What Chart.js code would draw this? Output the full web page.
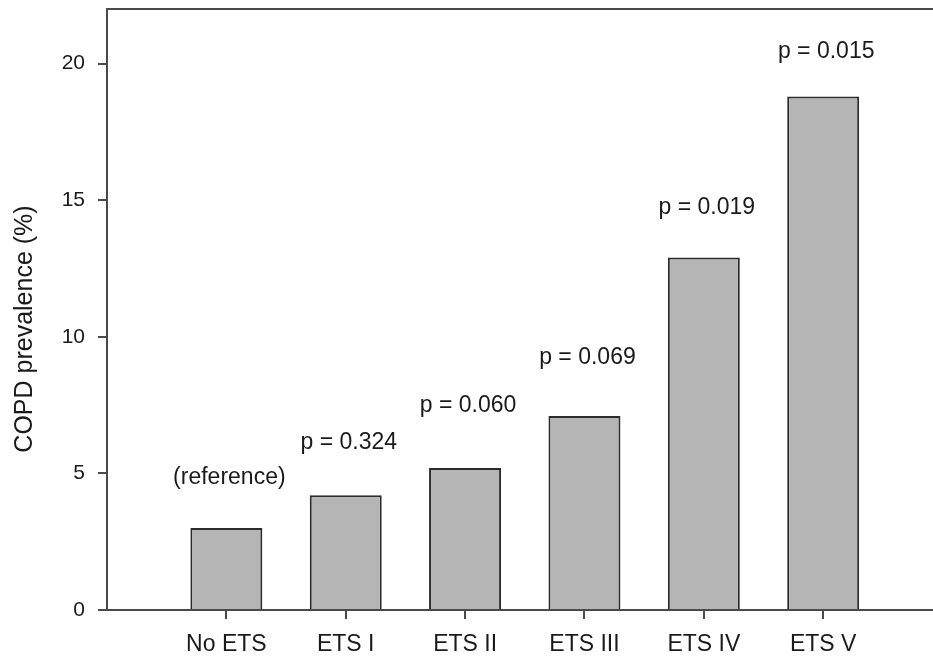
<!DOCTYPE html>
<html>
<head>
<meta charset="utf-8">
<script src="https://cdn.jsdelivr.net/npm/chart.js@4.4.1/dist/chart.umd.min.js"></script>
<style>
  html, body { margin: 0; padding: 0; background: #fff; overflow: hidden; }
</style>
</head>
<body>
<canvas id="copdChart" width="933" height="656"></canvas>
<script>
// Data
const categories = ['No ETS', 'ETS I', 'ETS II', 'ETS III', 'ETS IV', 'ETS V'];
const prevalence = [3.0, 4.2, 5.2, 7.1, 12.9, 18.8];
const pLabels = ['(reference)', 'p = 0.324', 'p = 0.060', 'p = 0.069', 'p = 0.019', 'p = 0.015'];
const yTicks = [0, 5, 10, 15, 20];

const axisColor = '#4a4a4a';
const textColor = '#1a1a1a';
const fontFamily = '"Liberation Sans", Arial, Helvetica, sans-serif';

// how far above each bar top the p-value baseline sits (px)
const labelLift = [44, 46, 56, 52, 44, 38];

const pValuePlugin = {
    id: 'pValues',
    afterDatasetsDraw(chart) {
        const ctx = chart.ctx;
        const meta = chart.getDatasetMeta(0);
        ctx.save();
        ctx.font = '23px ' + fontFamily;
        ctx.fillStyle = textColor;
        ctx.textAlign = 'center';
        ctx.textBaseline = 'alphabetic';
        meta.data.forEach((bar, i) => {
            ctx.fillText(pLabels[i], bar.x + 3, bar.y - labelLift[i]);
        });
        ctx.restore();
    }
};

const framePlugin = {
    id: 'frameTop',
    afterDraw(chart) {
        const ctx = chart.ctx;
        const area = chart.chartArea;
        ctx.save();
        ctx.strokeStyle = axisColor;
        ctx.lineWidth = 2;
        ctx.beginPath();
        ctx.moveTo(area.left - 1, area.top);
        ctx.lineTo(area.right, area.top);
        ctx.stroke();

        // y axis title
        ctx.font = '25px ' + fontFamily;
        ctx.fillStyle = textColor;
        ctx.textAlign = 'center';
        ctx.textBaseline = 'alphabetic';
        ctx.translate(32, 329);
        ctx.rotate(-Math.PI / 2);
        ctx.fillText('COPD prevalence (%)', 0, 0);
        ctx.restore();
    }
};

new Chart(document.getElementById('copdChart'), {
    type: 'bar',
    data: {
        datasets: [{
            data: categories.map((c, i) => ({ x: i + 1, y: prevalence[i] })),
            backgroundColor: '#b5b5b5',
            borderColor: '#2b2b2b',
            borderWidth: 2,
            borderSkipped: 'bottom',
            barPercentage: 0.603,
            categoryPercentage: 1
        }]
    },
    options: {
        responsive: false,
        animation: false,
        layout: { padding: { top: 9, right: 0, left: 0, bottom: 0 } },
        plugins: {
            legend: { display: false },
            tooltip: { enabled: false }
        },
        scales: {
            x: {
                type: 'linear',
                min: 0,
                max: 6.92,
                offset: false,
                afterBuildTicks: function(scale) {
                    scale.ticks = categories.map((c, i) => ({ value: i + 1 }));
                },
                afterFit: function(scale) {
                    scale.height = 46;
                    scale.paddingLeft = 0;
                    scale.paddingRight = 0;
                },
                grid: {
                    offset: false,
                    drawOnChartArea: false,
                    drawTicks: true,
                    tickLength: 9,
                    color: axisColor,
                    lineWidth: 2
                },
                border: { display: true, color: axisColor, width: 2 },
                ticks: {
                    autoSkip: false,
                    maxRotation: 0,
                    padding: 12,
                    color: textColor,
                    font: { family: fontFamily, size: 23 },
                    callback: function(value) {
                        return categories[value - 1];
                    }
                }
            },
            y: {
                min: 0,
                max: 22,
                afterBuildTicks: function(scale) {
                    scale.ticks = yTicks.map(v => ({ value: v }));
                },
                afterFit: function(scale) {
                    scale.width = 107;
                    scale.paddingTop = 0;
                    scale.paddingBottom = 0;
                },
                grid: {
                    drawOnChartArea: false,
                    drawTicks: true,
                    tickLength: 9,
                    color: axisColor,
                    lineWidth: 2
                },
                border: { display: true, color: axisColor, width: 2 },
                ticks: {
                    padding: 13,
                    color: textColor,
                    font: { family: fontFamily, size: 21 }
                }
            }
        }
    },
    plugins: [pValuePlugin, framePlugin]
});
</script>
</body>
</html>
